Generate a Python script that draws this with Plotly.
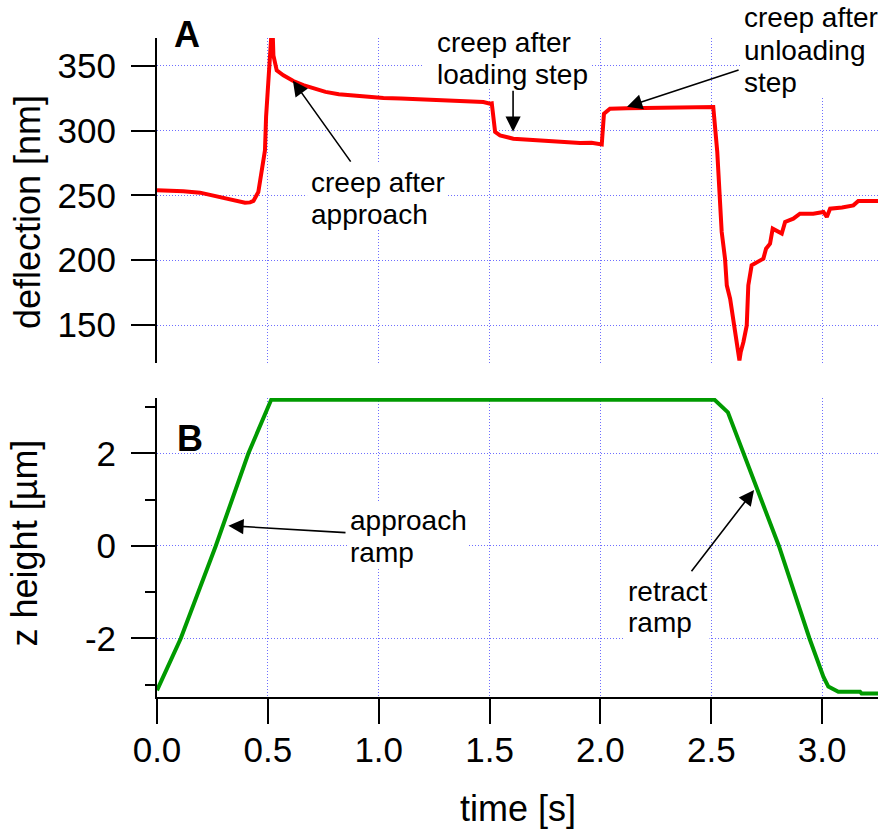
import plotly.graph_objects as go

# ---- panel A: cantilever deflection vs time ----
time_defl = [
    0.000, 0.060, 0.119, 0.194, 0.269, 0.344, 0.397, 0.420, 0.435, 0.457,
    0.472, 0.487, 0.492, 0.502, 0.510, 0.516, 0.520, 0.525, 0.540, 0.570,
    0.615, 0.660, 0.705, 0.760, 0.820, 0.871, 0.940, 1.021, 1.100, 1.180,
    1.246, 1.320, 1.400, 1.472, 1.502, 1.510, 1.525, 1.547, 1.607, 1.680,
    1.758, 1.830, 1.908, 1.960, 2.006, 2.016, 2.043, 2.120, 2.209, 2.300,
    2.400, 2.509, 2.527, 2.536, 2.547, 2.562, 2.570, 2.585, 2.600, 2.615,
    2.627, 2.633, 2.645, 2.660, 2.667, 2.682, 2.710, 2.735, 2.747, 2.765,
    2.777, 2.795, 2.818, 2.833, 2.870, 2.900, 2.960, 3.006, 3.021, 3.036,
    3.090, 3.141, 3.163, 3.252,
]
deflection_nm = [
    253.9, 253.6, 253.2, 252.1, 249.2, 246.9, 244.4, 244.6, 245.7, 252.6,
    268.0, 284.7, 310.5, 337.5, 363.0, 385.0, 385.0, 358.0, 346.4, 342.6,
    338.2, 335.0, 332.3, 329.8, 328.0, 327.1, 326.0, 325.1, 324.8, 324.3,
    324.0, 323.6, 322.9, 322.0, 320.7, 321.0, 298.9, 296.3, 293.7, 292.8,
    291.7, 291.2, 290.4, 290.6, 289.3, 313.0, 316.9, 317.3, 317.6, 317.4,
    317.9, 318.1, 283.5, 257.7, 221.8, 201.2, 180.6, 170.3, 152.3, 136.9,
    122.7, 129.2, 136.9, 149.7, 180.6, 196.0, 198.6, 201.2, 208.9, 212.7,
    224.3, 223.0, 220.5, 229.5, 232.0, 235.9, 235.9, 237.2, 233.3, 239.7,
    240.6, 242.3, 245.7, 245.7,
]

# ---- panel B: z piezo height vs time ----
time_z = [
    0.000, 0.107, 0.265, 0.412, 0.515, 0.530, 1.500, 2.515, 2.575,
    2.647, 2.805, 2.943, 3.006, 3.028, 3.073, 3.171, 3.178, 3.252,
]
z_height_um = [
    -3.12, -2.00, 0.00, 2.00, 3.16, 3.16, 3.16, 3.16, 2.89,
    2.00, 0.00, -2.00, -2.83, -3.04, -3.15, -3.15, -3.19, -3.19,
]

# tick positions and labels
x_tick_vals = [0.0, 0.5, 1.0, 1.5, 2.0, 2.5, 3.0]
x_tick_text = ["0.0", "0.5", "1.0", "1.5", "2.0", "2.5", "3.0"]
defl_tick_vals = [150, 200, 250, 300, 350]
z_tick_vals = [-2, 0, 2]
z_tick_text = ["-2", "0", "2"]
z_minor_vals = [-3, -1, 1, 3]

FONT = "Liberation Sans, Arial, sans-serif"
GRID = dict(showgrid=True, gridcolor="rgb(110,110,255)", gridwidth=1, griddash="1px,2px")

fig = go.Figure()
fig.add_trace(go.Scatter(x=time_defl, y=deflection_nm, mode="lines",
                         line=dict(color="#ff0000", width=4),
                         xaxis="x", yaxis="y", showlegend=False))
fig.add_trace(go.Scatter(x=time_z, y=z_height_um, mode="lines",
                         line=dict(color="#009a00", width=4),
                         xaxis="x2", yaxis="y2", showlegend=False))

tickfont = dict(family=FONT, size=35, color="black")

fig.update_layout(
    template="none",
    width=878, height=830,
    margin=dict(l=157, r=0, t=0, b=133),
    paper_bgcolor="white", plot_bgcolor="white",
    font=dict(family=FONT, color="black"),
    showlegend=False,
    xaxis=dict(domain=[0, 1], anchor="y", range=[0, 3.252], matches="x2",
               tickvals=x_tick_vals, showticklabels=False, ticks="",
               showline=False, zeroline=False, **GRID),
    yaxis=dict(domain=[0.4792, 0.9455], anchor="x", range=[120.7, 371.4],
               tickvals=defl_tick_vals, ticks="outside", ticklen=24, tickwidth=2,
               tickcolor="black", showline=True, linecolor="black", linewidth=2,
               zeroline=False, tickfont=tickfont, ticklabelstandoff=8,
               automargin=False, **GRID),
    xaxis2=dict(domain=[0, 1], anchor="y2", range=[0, 3.252],
                tickvals=x_tick_vals, ticktext=x_tick_text, ticks="outside",
                ticklen=25, tickwidth=2, tickcolor="black", showline=True,
                linecolor="black", linewidth=2, zeroline=False,
                tickfont=tickfont, ticklabelstandoff=-4, automargin=False, **GRID),
    yaxis2=dict(domain=[0, 0.4290], anchor="x2", range=[-3.265, 3.2],
                tickvals=z_tick_vals, ticktext=z_tick_text, ticks="outside",
                ticklen=24, tickwidth=2, tickcolor="black", showline=True,
                linecolor="black", linewidth=2, zeroline=False,
                tickfont=tickfont, ticklabelstandoff=8, automargin=False,
                minor=dict(tickvals=z_minor_vals, ticks="outside", ticklen=10,
                           tickwidth=2, tickcolor="black", showgrid=False),
                **GRID),
)

# white backing boxes behind the callout texts (hide grid, stay under traces)
boxes = [
    ("x", "y", 0.677, 1.308, 224.3, 274.5),
    ("x", "y", 1.200, 1.953, 332.3, 386.0),
    ("x", "y", 2.630, 3.300, 326.1, 401.7),
    ("x2", "y2", 0.857, 1.403, -0.476, 0.951),
    ("x2", "y2", 2.102, 2.492, -2.14, -0.584),
]
for xr, yr, x0, x1, y0, y1 in boxes:
    fig.add_shape(type="rect", xref=xr, yref=yr, x0=x0, x1=x1, y0=y0, y1=y1,
                  fillcolor="white", line=dict(width=0), layer="between")

# callout text, one line per annotation (paper coords for lines above panel A)
label_font = dict(family=FONT, size=28, color="black")
lines = [
    ("x", "y", 0.686, 260.1, "creep after"),
    ("x", "y", 0.686, 235.0, "approach"),
    ("paper", "paper", 0.3849, 0.9389, "creep after"),
    ("paper", "paper", 0.3849, 0.8937, "loading step"),
    ("paper", "paper", 0.8114, 0.9748, "creep after"),
    ("paper", "paper", 0.8114, 0.9281, "unloading"),
    ("paper", "paper", 0.8114, 0.8822, "step"),
    ("x2", "y2", 0.862, 0.549, "approach"),
    ("x2", "y2", 0.862, -0.143, "ramp"),
    ("x2", "y2", 2.115, -0.975, "retract"),
    ("x2", "y2", 2.115, -1.656, "ramp"),
]
for xr, yr, x, y, txt in lines:
    fig.add_annotation(xref=xr, yref=yr, x=x, y=y, text=txt, showarrow=False,
                       xanchor="left", yanchor="middle", font=label_font)

# arrows: (head x, head y) <- (tail x, tail y)
arrows = [
    ("x", "y", 0.613, 338.5, 0.880, 274.5),
    ("x", "y", 1.606, 299.1, 1.606, 332.3),
    ("x", "y", 2.120, 318.4, 2.630, 347.0),
    ("x2", "y2", 0.322, 0.439, 0.857, 0.288),
    ("x2", "y2", 2.693, 1.21, 2.404, -0.59),
]
for xr, yr, hx, hy, tx, ty in arrows:
    fig.add_annotation(xref=xr, yref=yr, axref=xr, ayref=yr, x=hx, y=hy,
                       ax=tx, ay=ty, text=" ", font=dict(size=1),
                       showarrow=True, arrowhead=2, arrowsize=1.9,
                       arrowwidth=1.6, arrowcolor="black", standoff=0)

# panel letters
letter_font = dict(family=FONT, size=36, color="black")
fig.add_annotation(xref="paper", yref="paper", x=0.0416, y=0.9498, text="<b>A</b>",
                   showarrow=False, xanchor="center", yanchor="middle", font=letter_font)
fig.add_annotation(xref="x2", yref="y2", x=0.149, y=2.32, text="<b>B</b>",
                   showarrow=False, font=letter_font)

# axis titles
title_font = dict(family=FONT, size=36, color="black")
fig.add_annotation(xref="paper", yref="paper", x=-0.1803, y=0.6958,
                   text="deflection [nm]", textangle=-90, showarrow=False,
                   xanchor="center", yanchor="middle", font=title_font)
fig.add_annotation(xref="paper", yref="paper", x=-0.1845, y=0.2217,
                   text="z height [µm]", textangle=-90, showarrow=False,
                   xanchor="center", yanchor="middle", font=title_font)
fig.add_annotation(xref="paper", yref="paper", x=0.5, y=-0.1593,
                   text="time [s]", showarrow=False,
                   xanchor="center", yanchor="middle", font=title_font)

fig.write_html("out.html", config={"displayModeBar": False})
